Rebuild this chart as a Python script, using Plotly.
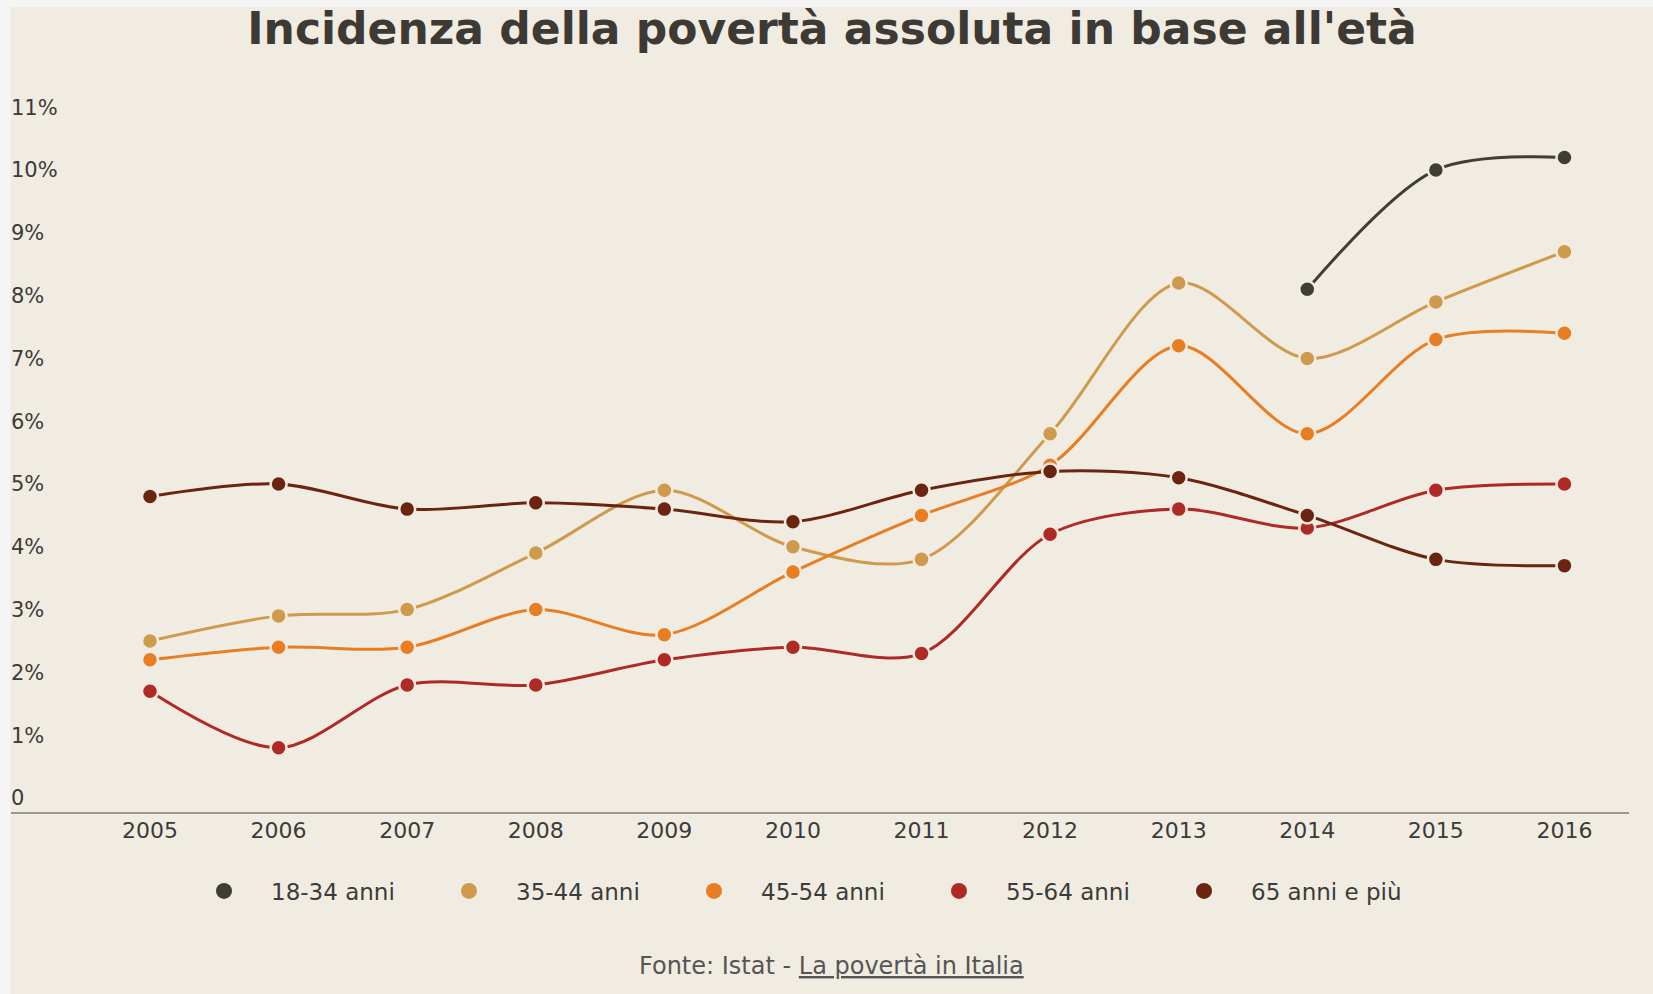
import plotly.graph_objects as go

years = [2005, 2006, 2007, 2008, 2009, 2010, 2011, 2012, 2013, 2014, 2015, 2016]
s18_34 = [None, None, None, None, None, None, None, None, None, 8.1, 10.0, 10.2]
s35_44 = [2.5, 2.9, 3.0, 3.9, 4.9, 4.0, 3.8, 5.8, 8.2, 7.0, 7.9, 8.7]
s45_54 = [2.2, 2.4, 2.4, 3.0, 2.6, 3.6, 4.5, 5.3, 7.2, 5.8, 7.3, 7.4]
s55_64 = [1.7, 0.8, 1.8, 1.8, 2.2, 2.4, 2.3, 4.2, 4.6, 4.3, 4.9, 5.0]
s65 = [4.8, 5.0, 4.6, 4.7, 4.6, 4.4, 4.9, 5.2, 5.1, 4.5, 3.8, 3.7]
series_names = ["18-34 anni", "35-44 anni", "45-54 anni", "55-64 anni", "65 anni e più"]
series_colors = ["#403d37", "#cf9a4b", "#e87d22", "#b02a25", "#6b2410"]
y_ticks = list(range(0, 12))
y_tick_labels = ["0"] + [f"{v}%" for v in range(1, 12)]

BG = "#f1ece2"
TXT = "#3b3b3b"

W, H = 1653, 994
ML, MR, MT, MB = 11, 24, 88, 182
PW, PH = W - ML - MR, H - MT - MB

fig = go.Figure()
for name, vals, col in zip(series_names, [s18_34, s35_44, s45_54, s55_64, s65], series_colors):
    fig.add_trace(go.Scatter(
        x=years, y=vals, name=name, mode="lines+markers", legendgroup=name,
        showlegend=False,
        line=dict(color=col, width=3, shape="spline", smoothing=0.9),
        marker=dict(color=col, size=16, line=dict(color=BG, width=2.5)),
        hoverinfo="x+y+name",
    ))
# legend entries: marker only
for name, col in zip(series_names, series_colors):
    fig.add_trace(go.Scatter(
        x=[None], y=[None], name=name, mode="markers", legendgroup=name,
        marker=dict(color=col, size=16), showlegend=True,
    ))

fig.update_layout(
    width=W, height=H,
    paper_bgcolor=BG, plot_bgcolor=BG,
    margin=dict(l=ML, r=MR, t=MT, b=MB, pad=0),
    title=dict(
        text="<b>Incidenza della povertà assoluta in base all'età</b>",
        font=dict(family="DejaVu Sans", size=44, color="#3d3a35"),
        x=832 / W, xref="container", xanchor="center",
        y=1 - 29 / H, yref="container", yanchor="middle",
    ),
    xaxis=dict(
        range=[2003.919, 2016.502], tickmode="array", tickvals=years,
        ticktext=[str(y) for y in years],
        showgrid=False, zeroline=False,
        showline=True, linecolor="#9a9792", linewidth=1.5,
        ticks="", ticklabelstandoff=-2,
        tickfont=dict(family="DejaVu Sans", size=22, color=TXT),
    ),
    yaxis=dict(
        range=[-0.223, 11.306], tickmode="array", tickvals=y_ticks, ticktext=y_tick_labels,
        showgrid=False, zeroline=False, showline=False,
        ticklabelposition="inside", ticklabelstandoff=-3,
        tickfont=dict(family="DejaVu Sans", size=21, color=TXT),
    ),
    legend=dict(
        orientation="h", x=0.5 - 30.5 / PW, xanchor="center", y=(MT + PH - 891) / PH, yanchor="middle",
        font=dict(family="DejaVu Sans", size=23, color=TXT),
        itemwidth=84, entrywidth=146, itemsizing="trace",
        bgcolor="rgba(0,0,0,0)",
    ),
    showlegend=True,
    annotations=[dict(
        text="Fonte: Istat - <span style='text-decoration:underline'>La povertà in Italia</span>",
        xref="paper", yref="paper", x=(832 - ML) / PW, y=(MT + PH - 966) / PH,
        xanchor="center", yanchor="middle", showarrow=False,
        font=dict(family="DejaVu Sans", size=24, color="#555555"),
    )],
    shapes=[
        dict(type="rect", xref="paper", yref="paper", x0=-0.02, x1=-0.5 / PW, y0=-0.5, y1=1.5,
             fillcolor="#f5f5f5", line=dict(width=0), layer="below"),
        dict(type="rect", xref="paper", yref="paper", x0=-0.02, x1=1.05, y0=1 + (MT - 7) / PH, y1=1.5,
             fillcolor="#f5f5f5", line=dict(width=0), layer="below"),
    ],
)

fig.write_html("out.html", config={"displayModeBar": False},
               post_script="document.body.style.margin='0';")
